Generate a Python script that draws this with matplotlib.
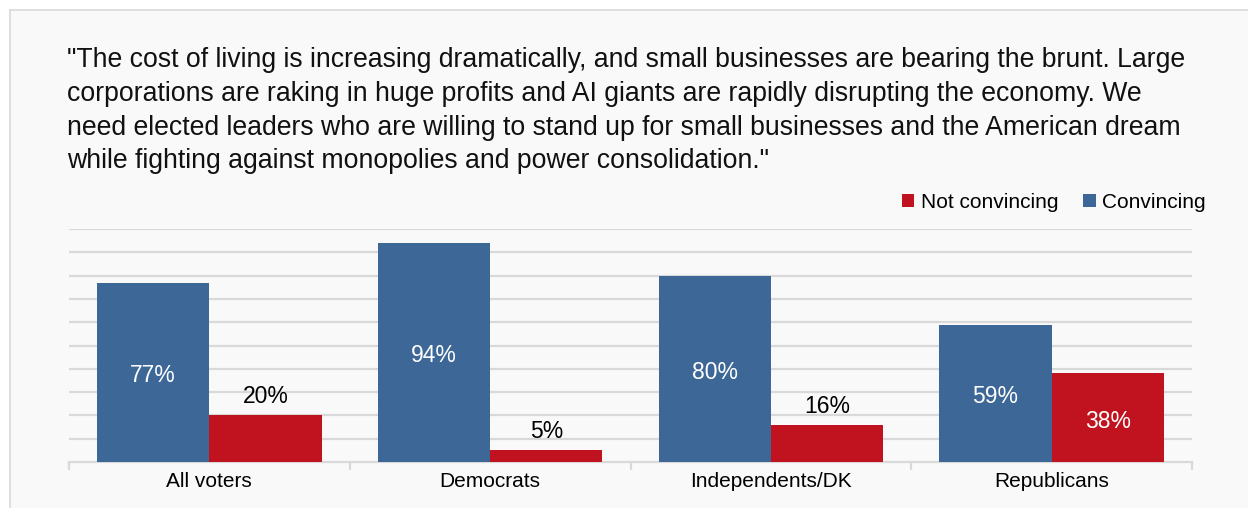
import matplotlib
matplotlib.use("Agg")
import matplotlib.pyplot as plt
from matplotlib.patches import Rectangle
import numpy as np

plt.rcParams['font.family'] = ['Liberation Sans', 'DejaVu Sans']

categories = ["All voters", "Democrats", "Independents/DK", "Republicans"]
convincing = [77, 94, 80, 59]
not_convincing = [20, 5, 16, 38]
quote_lines = [
    '"The cost of living is increasing dramatically, and small businesses are bearing the brunt. Large',
    'corporations are raking in huge profits and AI giants are rapidly disrupting the economy. We',
    'need elected leaders who are willing to stand up for small businesses and the American dream',
    'while fighting against monopolies and power consolidation."',
]

BLUE = "#3d6797"
RED = "#c0131f"
BG = "#f9f9f9"
GRID = "#d9d9d9"

W, H = 1248, 508
fig = plt.figure(figsize=(W / 100, H / 100), dpi=100)
fig.patch.set_facecolor("white")

# Panel background with a thin frame on the left and top
panel = Rectangle((10 / W, 0), 1 - 10 / W, 1 - 10 / H, transform=fig.transFigure,
                  facecolor=BG, edgecolor="none", zorder=-5)
fig.patches.append(panel)
fig.add_artist(plt.Line2D([10 / W, 10 / W], [0, 1 - 10 / H], transform=fig.transFigure,
                          color=GRID, lw=1.2, zorder=-4))
fig.add_artist(plt.Line2D([10 / W, 1], [1 - 10 / H, 1 - 10 / H], transform=fig.transFigure,
                          color=GRID, lw=1.2, zorder=-4))

# Quote, one line at a time
line_y = [60, 94, 128, 161]
for txt, y in zip(quote_lines, line_y):
    fig.text(67 / W, 1 - y / H, txt, fontsize=19.2, color="#111111", va="center", ha="left")

ax = fig.add_axes([69 / W, 1 - 462 / H, (1192 - 69) / W, (462 - 229) / H])
ax.set_facecolor(BG)

x = np.arange(len(categories))
bw = 0.4
b1 = ax.bar(x - bw / 2, convincing, width=bw, color=BLUE, label="Convincing", zorder=3)
b2 = ax.bar(x + bw / 2, not_convincing, width=bw, color=RED, label="Not convincing", zorder=3)

ax.set_ylim(0, 100)
ax.set_xlim(-0.5, len(categories) - 0.5)
ax.set_yticks(np.arange(10, 101, 10))
ax.yaxis.grid(True, color=GRID, lw=1.6, zorder=0)
ax.tick_params(axis="y", length=0, labelleft=False)
for s in ["top", "right", "left"]:
    ax.spines[s].set_visible(False)
ax.spines["bottom"].set_color(GRID)
ax.spines["bottom"].set_linewidth(1.6)

# Category labels centered under groups, tick marks at group boundaries
ax.set_xticks(x)
ax.set_xticklabels(categories, fontsize=15)
ax.tick_params(axis="x", which="major", length=0, pad=7)
ax.set_xticks(np.arange(-0.5, len(categories), 1), minor=True)
ax.tick_params(axis="x", which="minor", length=6, width=1.6, color=GRID)

# Value labels
for xi, v in zip(x, convincing):
    ax.text(xi - bw / 2, v / 2 - 1.5, f"{v}%", ha="center", va="center",
            color="white", fontsize=16.5, zorder=4)
for xi, v in zip(x, not_convincing):
    if v >= 30:
        ax.text(xi + bw / 2, v / 2 - 1.5, f"{v}%", ha="center", va="center",
                color="white", fontsize=16.5, zorder=4)
    else:
        ax.text(xi + bw / 2, v + 8, f"{v}%", ha="center", va="center",
                color="black", fontsize=16.5, zorder=4)

leg = fig.legend(handles=[b2, b1], labels=["Not convincing", "Convincing"],
                 loc="center right", bbox_to_anchor=(1216 / W, 1 - 202 / H),
                 ncol=2, frameon=False, fontsize=15, handlelength=0.6, handleheight=0.6,
                 handletextpad=0.3, columnspacing=1.2, borderpad=0)

fig.savefig("out.png", dpi=100, facecolor=fig.get_facecolor())
